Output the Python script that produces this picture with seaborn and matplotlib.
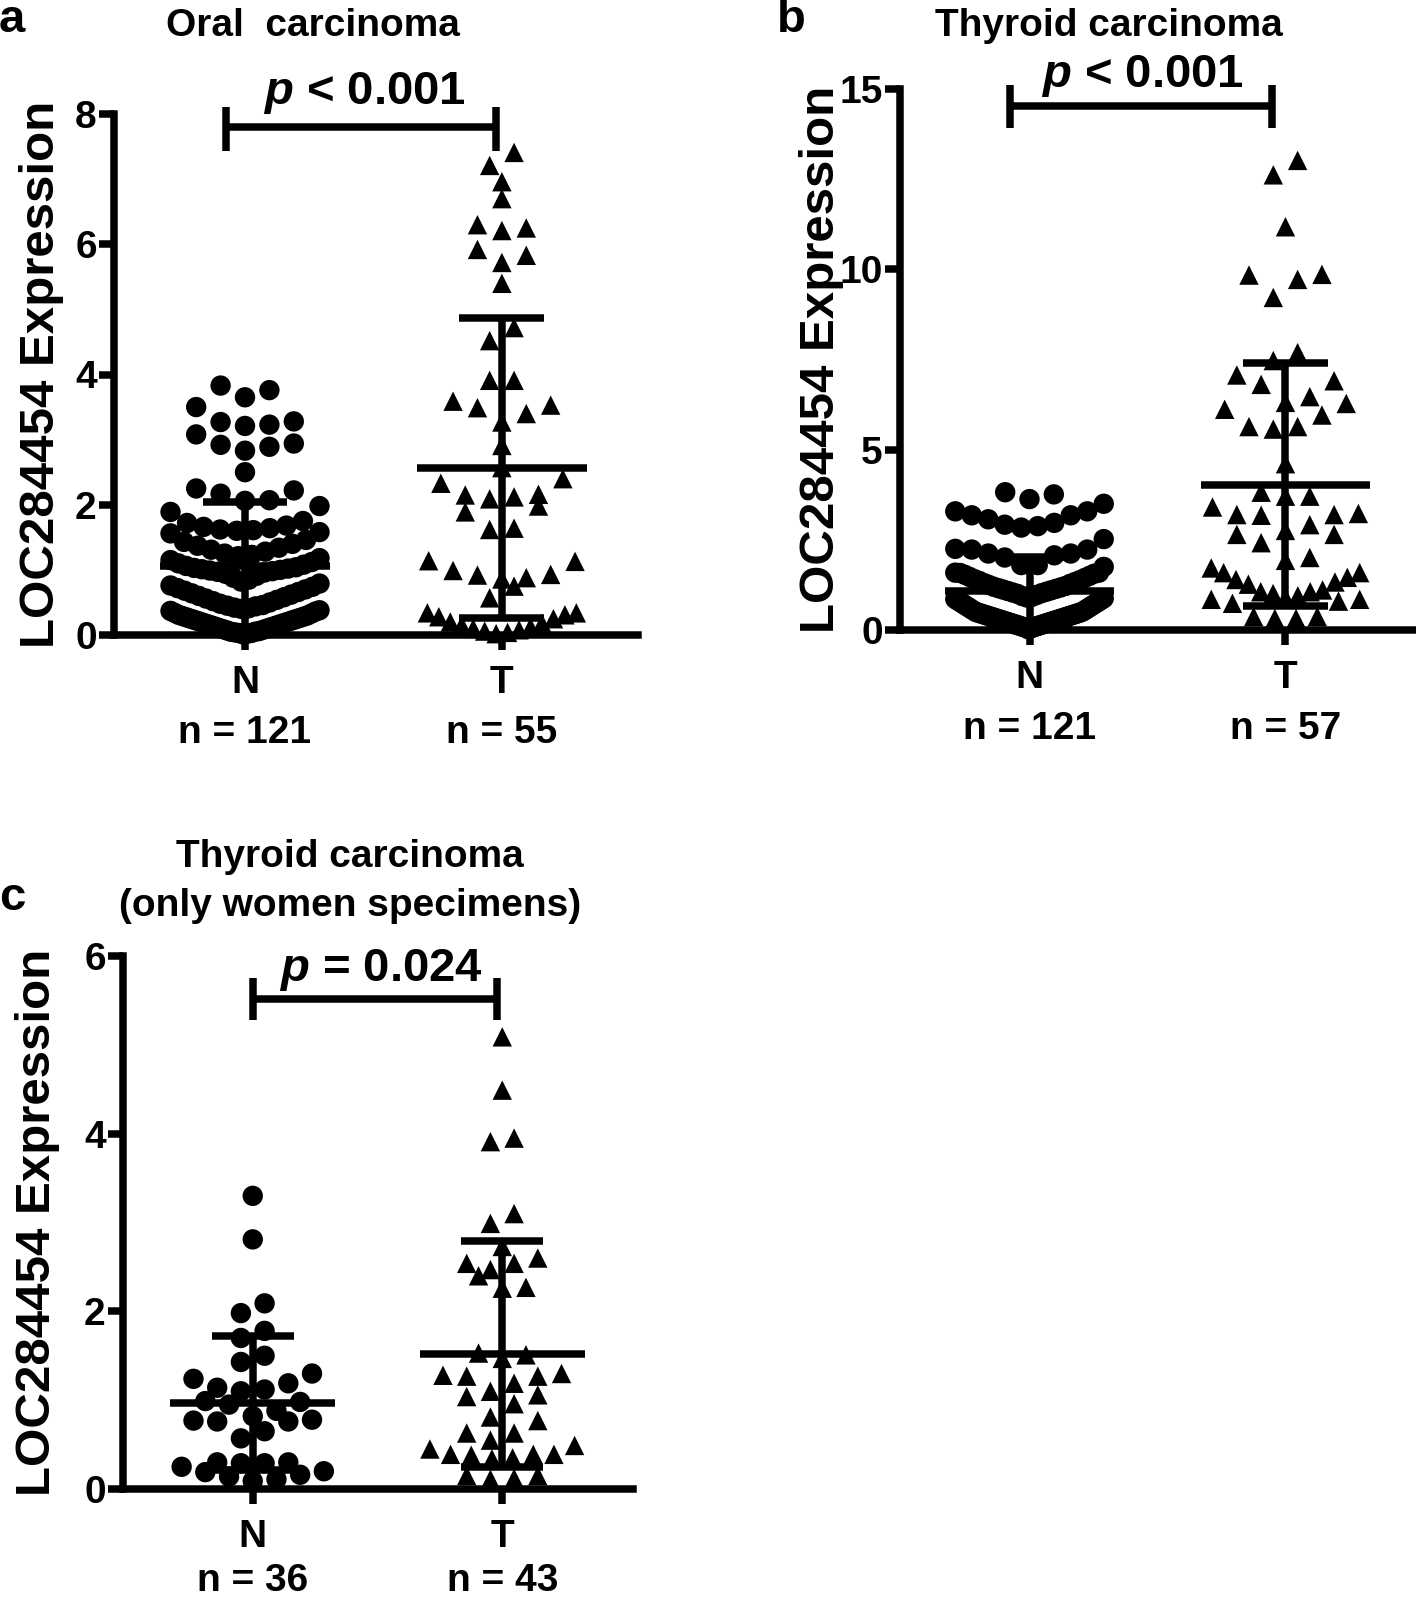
import numpy as np
import pandas as pd
import seaborn as sns
import matplotlib.pyplot as plt
from matplotlib import transforms

sns.set_style('ticks')
plt.rcParams['font.family'] = ['Liberation Sans', 'DejaVu Sans']
plt.rcParams['font.weight'] = 'bold'
plt.rcParams['axes.labelweight'] = 'bold'
plt.rcParams['mathtext.fontset'] = 'custom'
plt.rcParams['mathtext.it'] = 'Liberation Sans:italic:bold'
plt.rcParams['mathtext.rm'] = 'Liberation Sans:bold'
for key in ['text.color', 'axes.labelcolor', 'xtick.color', 'ytick.color', 'axes.edgecolor']:
    plt.rcParams[key] = 'black'

# values
groups = ['N', 'T']

oral_n = [3.83, 3.76, 3.65, 3.50, 3.28, 3.27, 3.23, 3.21, 3.08, 2.94, 2.92, 2.89, 2.83, 2.50,
          2.25, 2.22, 2.17, 2.07, 2.06, 1.98, 1.89, 1.75,
          1.72, 1.68, 1.66, 1.64, 1.62, 1.61, 1.60, 1.58, 1.56,
          1.46, 1.43, 1.40, 1.37, 1.34, 1.31, 1.28, 1.25, 1.23, 1.21,
          1.18, 1.15, 1.12, 1.10, 1.08, 1.06, 1.04, 1.03, 1.02, 1.01, 1.00, 0.99, 0.98, 0.97, 0.96,
          0.94, 0.91, 0.88, 0.85, 0.82, 0.79, 0.76, 0.74, 0.72, 0.70, 0.68, 0.66, 0.64, 0.62, 0.60,
          0.58, 0.56, 0.54, 0.52, 0.50,
          0.48, 0.46, 0.45, 0.44, 0.42, 0.41, 0.40, 0.38, 0.37, 0.36, 0.34, 0.33, 0.31, 0.30, 0.29,
          0.28, 0.27, 0.26, 0.25, 0.24, 0.23, 0.22, 0.21, 0.20, 0.19, 0.18, 0.17, 0.16, 0.15, 0.14,
          0.13, 0.12, 0.11, 0.10, 0.09, 0.08, 0.07, 0.06, 0.05, 0.05, 0.04, 0.03, 0.03, 0.02, 0.01]
oral_t = [7.41, 7.21, 6.96, 6.70, 6.25, 6.30, 6.21, 5.92, 5.83, 5.72, 5.40,
          4.72, 4.52, 3.91, 3.91, 3.53, 3.40, 3.49, 3.59, 3.27, 2.91,
          2.57, 2.40, 2.33, 2.15, 2.09, 2.12, 2.16, 1.98, 1.89,
          1.64, 1.62, 1.13, 1.14, 0.93, 0.88, 0.92, 0.99, 0.86, 0.75, 0.57,
          0.25, 0.34, 0.34, 0.28, 0.31,
          0.02, 0.04, 0.06, 0.08, 0.10, 0.12, 0.15, 0.18, 0.20]

thy_n = [3.82, 3.76, 3.63, 3.50,
         3.29, 3.29, 3.18, 3.18, 3.07, 2.97, 2.92, 2.88, 2.84,
         2.52, 2.25, 2.23, 2.23, 2.12, 2.12, 2.07, 2.01, 1.80, 1.80, 1.75, 1.59, 1.59,
         1.58, 1.56, 1.53, 1.50, 1.47, 1.44, 1.41, 1.38, 1.36, 1.33, 1.30, 1.28, 1.25, 1.22, 1.20,
         1.18, 1.16, 1.14, 1.12, 1.10, 1.08, 1.06, 1.04, 1.02, 1.00,
         0.97, 0.94, 0.92, 0.90, 0.88, 0.86, 0.84, 0.82, 0.80, 0.78, 0.76, 0.74, 0.72, 0.70, 0.68,
         0.66, 0.64, 0.62, 0.60, 0.58, 0.56, 0.54, 0.52, 0.50,
         0.49, 0.48, 0.47, 0.46, 0.45, 0.44, 0.43, 0.42, 0.41, 0.40, 0.39, 0.38, 0.37, 0.36, 0.35,
         0.34, 0.33, 0.32, 0.31, 0.30, 0.29, 0.28, 0.27, 0.26, 0.25, 0.24, 0.23, 0.22, 0.21, 0.20,
         0.19, 0.18, 0.17, 0.16, 0.15, 0.14, 0.13, 0.12, 0.11, 0.10, 0.09, 0.08, 0.07, 0.06, 0.04, 0.02]
thy_t = [13.02, 12.62, 11.18, 9.86, 9.72, 9.84, 9.22,
         7.47, 7.69, 7.07, 6.81, 6.91, 6.31, 6.47, 6.28, 6.12, 5.96, 5.64, 5.57, 5.64,
         4.61, 3.71, 3.82, 3.71, 3.41, 3.20, 3.18, 3.20, 3.23, 2.92, 2.76, 2.65, 2.42, 2.65,
         2.01, 1.93, 1.72, 1.59, 1.40, 1.27, 1.33, 1.46, 1.59, 1.11, 1.06, 1.01, 0.90, 0.85, 0.85,
         0.95, 1.06, 0.37, 0.32, 0.32, 0.37, 0.74, 0.80]

women_n = [3.30, 2.81, 2.09, 1.98, 1.78, 1.70, 1.43, 1.50, 1.30, 1.24, 1.14, 1.10, 1.12, 1.19,
           0.98, 0.95, 0.99, 0.88, 0.78, 0.76, 0.76, 0.77, 0.82, 0.65, 0.57,
           0.29, 0.20, 0.30, 0.30, 0.25, 0.29, 0.14, 0.16, 0.19, 0.09, 0.11]
women_t = [5.09, 4.49, 3.95, 3.91, 2.99, 3.10, 2.73, 2.60, 2.54, 2.40, 2.47, 2.54, 2.26, 2.27,
           1.53, 1.47, 1.51, 1.28, 1.19, 1.30, 1.27, 1.27, 1.06, 0.96, 1.04, 1.10,
           0.77, 0.81, 0.63, 0.55, 0.63, 0.49, 0.45, 0.38, 0.34, 0.39, 0.39, 0.35, 0.39,
           0.15, 0.11, 0.12, 0.15]

LW = 5.4


def spread(values, bin_h, step=0.095, max_half=0.29):
    # prism-like scatter: bin by value, lay each bin out from the centre outwards
    v = np.asarray(values, dtype=float)
    order = np.argsort(v, kind='stable')
    bins = np.floor(v / bin_h).astype(int)
    offs = np.zeros(len(v))
    for b in np.unique(bins):
        idx = [i for i in order if bins[i] == b]
        n = len(idx)
        if n < 2:
            continue
        st = min(step, 2 * max_half / (n - 1))
        for k, i in enumerate(idx):
            if n % 2:
                pos = ((k + 1) // 2) * (1 if k % 2 else -1)
            else:
                pos = (k // 2 + 0.5) * (1 if k % 2 else -1)
            offs[i] = pos * st
    return offs


def draw_panel(ax, n_vals, t_vals, ymax, yticks, bin_h, xlim, p_text, p_xy, bracket,
               counts, count_off, label_x):
    df = pd.DataFrame({
        'group': ['N'] * len(n_vals) + ['T'] * len(t_vals),
        'value': list(n_vals) + list(t_vals),
    })
    df['x'] = df['group'].map({'N': 0, 'T': 1}).astype(float)
    for g in groups:
        m = df['group'] == g
        df.loc[m, 'x'] += spread(df.loc[m, 'value'], bin_h)

    sns.scatterplot(data=df[df.group == 'N'], x='x', y='value', marker='o', s=215,
                    color='black', edgecolor='none', ax=ax, clip_on=False, zorder=3, legend=False)
    sns.scatterplot(data=df[df.group == 'T'], x='x', y='value', marker='^', s=195,
                    color='black', edgecolor='none', ax=ax, clip_on=False, zorder=3, legend=False)

    # mean +/- SD
    for i, g in enumerate(groups):
        vals = df.loc[df.group == g, 'value']
        mean, sd = vals.mean(), vals.std()
        ax.hlines(mean, i - 0.33, i + 0.33, color='black', lw=LW, zorder=4)
        ax.hlines(mean + sd, i - 0.165, i + 0.165, color='black', lw=LW, zorder=4)
        lo = mean - sd
        if lo > 0:
            ax.hlines(lo, i - 0.165, i + 0.165, color='black', lw=LW, zorder=4)
        ax.vlines(i, max(lo, 0), mean + sd, color='black', lw=LW, zorder=4)

    # significance bracket
    x0, x1, yb, ylo, yhi = bracket
    ax.hlines(yb, x0, x1, color='black', lw=LW, clip_on=False)
    ax.vlines([x0, x1], ylo, yhi, color='black', lw=LW, clip_on=False)
    ax.text(p_xy[0], p_xy[1], p_text, ha='center', va='center', fontsize=34,
            fontweight='bold', clip_on=False)

    ax.set_xlim(*xlim)
    ax.set_ylim(0, ymax)
    ax.set_yticks(yticks)
    ax.set_xticks([0, 1])
    ax.set_xticklabels(groups)
    ax.set_xlabel('')
    ax.set_ylabel('LOC284454 Expression', fontsize=35.5, fontweight='bold', va='center')
    ax.yaxis.set_label_coords(label_x, 0.5)
    sns.despine(ax=ax)
    for s in ['left', 'bottom']:
        ax.spines[s].set_linewidth(LW)
    ax.tick_params(axis='both', width=LW, length=10.5, labelsize=28)
    ax.tick_params(axis='x', pad=11)
    ax.tick_params(axis='y', pad=2)

    trans = transforms.blended_transform_factory(ax.transData, ax.transAxes)
    for i, c in enumerate(counts):
        ax.annotate(c, xy=(i, 0), xycoords=trans, xytext=(0, -count_off), textcoords='offset points',
                    ha='center', va='center', fontsize=28, fontweight='bold')


fig = plt.figure(figsize=(14.16, 16), dpi=100)
W, H = 1416, 1600


def axes_px(left, right, bottom, top):
    return fig.add_axes([left / W, 1 - bottom / H, (right - left) / W, (bottom - top) / H])


ax_a = axes_px(114, 638, 635, 114)
ax_b = axes_px(900, 1416, 630, 89)
ax_c = axes_px(123, 633, 1489, 956)

draw_panel(ax_a, oral_n, oral_t, 8, [0, 2, 4, 6, 8], 0.4, (-0.51, 1.53),
           r'$p$ < 0.001', (0.463, 8.33), (-0.073, 0.979, 7.80, 7.43, 8.11),
           ['n = 121', 'n = 55'], 70.5, -0.139)
draw_panel(ax_b, thy_n, thy_t, 15, [0, 5, 10, 15], 0.9, (-0.506, 1.51),
           r'$p$ < 0.001', (0.44, 15.37), (-0.077, 0.947, 14.52, 13.92, 15.12),
           ['n = 121', 'n = 57'], 71, -0.1525)
draw_panel(ax_c, women_n, women_t, 6, [0, 2, 4, 6], 0.27, (-0.52, 1.524),
           r'$p$ = 0.024', (0.512, 5.84), (0.003, 0.977, 5.52, 5.28, 5.75),
           ['n = 36', 'n = 43'], 66, -0.168)

# titles and panel letters
fig.text(313 / W, 1 - 26 / H, 'Oral  carcinoma', ha='center', va='center', fontsize=28, fontweight='bold')
fig.text(1109 / W, 1 - 26 / H, 'Thyroid carcinoma', ha='center', va='center', fontsize=28, fontweight='bold')
fig.text(350 / W, 1 - 857 / H, 'Thyroid carcinoma', ha='center', va='center', fontsize=28, fontweight='bold')
fig.text(350 / W, 1 - 906 / H, '(only women specimens)', ha='center', va='center', fontsize=28, fontweight='bold')
fig.text(12 / W, 1 - 20 / H, 'a', ha='center', va='center', fontsize=34, fontweight='bold')
fig.text(791 / W, 1 - 20 / H, 'b', ha='center', va='center', fontsize=34, fontweight='bold')
fig.text(12 / W, 1 - 898 / H, 'c', ha='center', va='center', fontsize=34, fontweight='bold')

fig.savefig('out.png', dpi=100, facecolor='white')
